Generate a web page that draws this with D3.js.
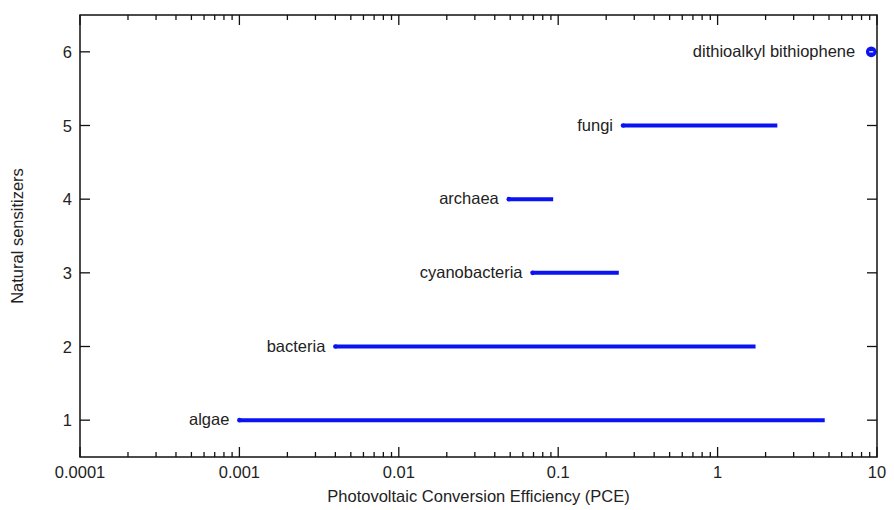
<!DOCTYPE html>
<html>
<head>
<meta charset="utf-8">
<script src="https://cdn.jsdelivr.net/npm/d3@7"></script>
<style>
  body { margin: 0; background: #fff; }
  text { font-family: "Liberation Sans", Arial, sans-serif; fill: #222; }
</style>
</head>
<body>
<div id="chart"></div>
<script>
// data
const names = ["algae", "bacteria", "cyanobacteria", "archaea", "fungi", "dithioalkyl bithiophene"];
const rows = [1, 2, 3, 4, 5, 6];
const pceLow = [0.001, 0.004, 0.069, 0.049, 0.255, 9.2];
const pceHigh = [4.7, 1.73, 0.24, 0.093, 2.37, 9.2];
const xTicks = [0.0001, 0.001, 0.01, 0.1, 1, 10];
const yTicks = [1, 2, 3, 4, 5, 6];

const margin = {top: 15, right: 17, bottom: 53, left: 80},
  width = 894 - margin.left - margin.right,
  height = 510 - margin.top - margin.bottom;

const fs = "16.5px";

const svg = d3.select("#chart")
  .append("svg")
    .attr("width", width + margin.left + margin.right)
    .attr("height", height + margin.top + margin.bottom)
  .append("g")
    .attr("transform", `translate(${margin.left},${margin.top})`);

const x = d3.scaleLog().domain([0.0001, 10]).range([0, width]);
const y = d3.scaleLinear().domain([0.5, 6.5]).range([height, 0]);

// minor ticks 2..9 per decade
const minor = [];
for (let e = -4; e < 1; e++) {
  for (let m = 2; m <= 9; m++) minor.push(m * Math.pow(10, e));
}

const tickColor = "#111";

// bottom / top ticks
[height, 0].forEach(function(yy, i) {
  const dir = i === 0 ? -1 : 1;
  svg.selectAll(null).data(xTicks).join("line")
    .attr("x1", d => x(d)).attr("x2", d => x(d))
    .attr("y1", yy).attr("y2", yy + dir * 10)
    .attr("stroke", tickColor).attr("stroke-width", 1.3);
  svg.selectAll(null).data(minor).join("line")
    .attr("x1", d => x(d)).attr("x2", d => x(d))
    .attr("y1", yy).attr("y2", yy + dir * 5)
    .attr("stroke", tickColor).attr("stroke-width", 1.3);
});

// left / right ticks
[0, width].forEach(function(xx, i) {
  const dir = i === 0 ? 1 : -1;
  svg.selectAll(null).data(yTicks).join("line")
    .attr("x1", xx).attr("x2", xx + dir * 10)
    .attr("y1", d => y(d)).attr("y2", d => y(d))
    .attr("stroke", tickColor).attr("stroke-width", 1.3);
});

// frame
svg.append("rect")
  .attr("width", width).attr("height", height)
  .attr("fill", "none").attr("stroke", tickColor).attr("stroke-width", 1.5);

// tick labels
svg.selectAll(null).data(xTicks).join("text")
  .attr("x", d => x(d)).attr("y", height + 21)
  .attr("text-anchor", "middle")
  .style("font-size", fs)
  .text(d => d < 1 ? d.toFixed(Math.round(-Math.log10(d))) : String(d));

svg.selectAll(null).data(yTicks).join("text")
  .attr("x", -8).attr("y", d => y(d) + 6)
  .attr("text-anchor", "end")
  .style("font-size", fs)
  .text(d => d);

// axis titles
svg.append("text")
  .attr("x", width / 2).attr("y", height + 45)
  .attr("text-anchor", "middle")
  .style("font-size", fs)
  .text("Photovoltaic Conversion Efficiency (PCE)");

svg.append("text")
  .attr("transform", `translate(-57,${height / 2}) rotate(-90)`)
  .attr("text-anchor", "middle")
  .style("font-size", fs)
  .text("Natural sensitizers");

// ranges
const data = names.map((n, i) => ({name: n, row: rows[i], lo: pceLow[i], hi: pceHigh[i]}));
const blue = "#0a14f0";

const ranges = data.filter(d => d.lo !== d.hi);
svg.selectAll(null).data(ranges).join("line")
  .attr("x1", d => x(d.lo)).attr("x2", d => x(d.hi))
  .attr("y1", d => y(d.row)).attr("y2", d => y(d.row))
  .attr("stroke", blue).attr("stroke-width", 4);

svg.selectAll(null).data(ranges).join("circle")
  .attr("cx", d => x(d.lo)).attr("cy", d => y(d.row))
  .attr("r", 2.3).attr("fill", blue);

const points = data.filter(d => d.lo === d.hi);
svg.selectAll(null).data(points).join("circle")
  .attr("cx", d => x(d.lo)).attr("cy", d => y(d.row))
  .attr("r", 5.3).attr("fill", blue);
svg.selectAll(null).data(points).join("line")
  .attr("x1", d => x(d.lo) - 2).attr("x2", d => x(d.lo) + 2)
  .attr("y1", d => y(d.row)).attr("y2", d => y(d.row))
  .attr("stroke", "#fff").attr("stroke-width", 1.2);

// labels
svg.selectAll(null).data(data).join("text")
  .attr("x", d => x(d.lo) - (d.lo === d.hi ? 16 : 10))
  .attr("y", d => y(d.row) + 5)
  .attr("text-anchor", "end")
  .style("font-size", fs)
  .text(d => d.name);
</script>
</body>
</html>
